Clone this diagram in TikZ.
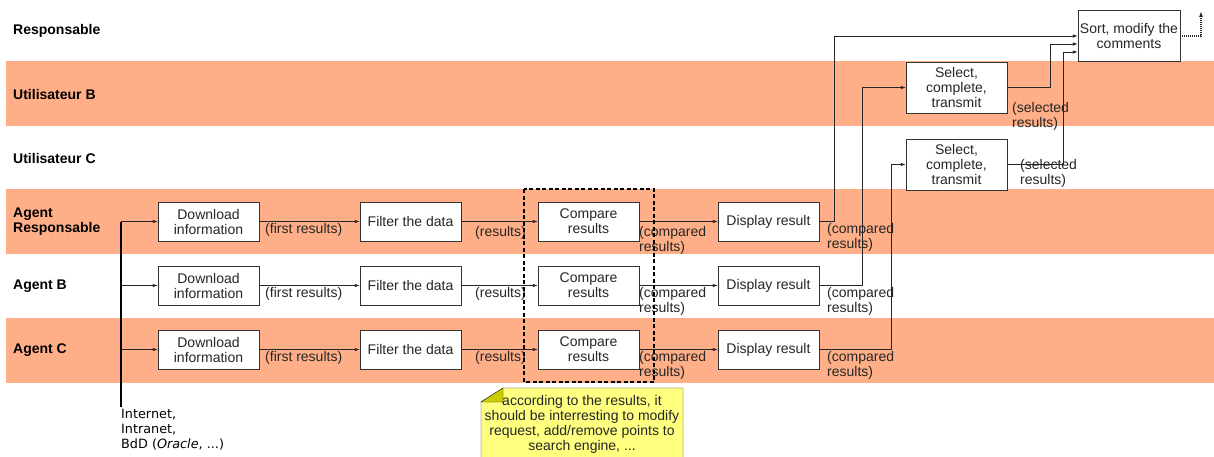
\documentclass[tikz,border=0pt]{standalone}
\usepackage{fontspec}
\setmainfont{Liberation Sans}
\newfontfamily\comicfont{DejaVu Sans}
\usetikzlibrary{arrows.meta}
\definecolor{laneorange}{HTML}{FFAF87}
\definecolor{noteyellow}{HTML}{FFFF80}
\definecolor{foldyellow}{HTML}{CCCC00}
\begin{document}
\begin{tikzpicture}[x=1pt,y=-1pt,font=\fontsize{14}{15}\selectfont]
                \tikzstyle{every node}+=[inner sep=0pt]
                \tikzstyle{task}=[draw=black!80,fill=white,minimum width=101pt,minimum height=39pt,align=center,text=black!85]
                \tikzstyle{tall task}=[task,minimum height=51pt]
                \tikzstyle{lane}=[font=\fontsize{14}{15}\selectfont\bfseries,anchor=west,align=left]
                \tikzstyle{flow}=[draw=black!85,line width=0.8pt,-{Latex[length=5pt,width=3.5pt]}]
                \tikzstyle{tag}=[anchor=west,align=left,text=black!85]
                \useasboundingbox (0,0) rectangle (1214,457);
                % swim lanes
                \fill [laneorange] (6,61) rectangle (1214,126);
                \fill [laneorange] (6,189) rectangle (1214,254);
                \fill [laneorange] (6,318) rectangle (1214,383);
                \node [lane] (lresp) at (13,30.5) {Responsable};
                \node [lane] (lub) at (13,94.5) {Utilisateur B};
                \node [lane] (luc) at (13,158.5) {Utilisateur C};
                \node [lane] (lar) at (13,222) {Agent\\Responsable};
                \node [lane] (lab) at (13,286.5) {Agent B};
                \node [lane] (lac) at (13,350.5) {Agent C};
                % agent tasks
                \node [task] (dla) at (208.5,221.5) {Download\\information};
                \node [task] (dlb) at (208.5,285.5) {Download\\information};
                \node [task] (dlc) at (208.5,349.5) {Download\\information};
                \node [task] (fla) at (410.5,221.5) {Filter the data};
                \node [task] (flb) at (410.5,285.5) {Filter the data};
                \node [task] (flc) at (410.5,349.5) {Filter the data};
                \node [task] (cpa) at (588.5,221.5) {Compare\\results};
                \node [task] (cpb) at (588.5,285.5) {Compare\\results};
                \node [task] (cpc) at (588.5,349.5) {Compare\\results};
                \node [task] (dpa) at (768.5,221.5) {Display result};
                \node [task] (dpb) at (768.5,285.5) {Display result};
                \node [task] (dpc) at (768.5,349.5) {Display result};
                % user tasks
                \node [tall task] (selb) at (956.5,87.5) {Select,\\complete,\\transmit};
                \node [tall task] (selc) at (956.5,164.5) {Select,\\complete,\\transmit};
                \node [tall task,minimum width=102pt] (sort) at (1129,35.5) {Sort, modify the\\comments};
                % sources
                \coordinate (src) at (121,407);
                \node [anchor=north west,align=left,font=\comicfont\fontsize{12.8}{15}\selectfont] (srctxt) at (121,409) {Internet,\\Intranet,\\BdD ({\itshape Oracle}, ...)};
                \draw [black,line width=1.4pt] (src) -- (121,221.5);
                \draw [flow] (121,221.5) -- (dla.west);
                \draw [flow] (121,285.5) -- (dlb.west);
                \draw [flow] (121,349.5) -- (dlc.west);
                % flows along each agent
                \draw [flow] (dla) -- (fla);
                \draw [flow] (dlb) -- (flb);
                \draw [flow] (dlc) -- (flc);
                \draw [flow] (fla) -- (cpa);
                \draw [flow] (flb) -- (cpb);
                \draw [flow] (flc) -- (cpc);
                \draw [flow] (cpa) -- (dpa);
                \draw [flow] (cpb) -- (dpb);
                \draw [flow] (cpc) -- (dpc);
                \node [tag] (ta1) at (265,230) {(first results)};
                \node [tag] (tb1) at (265,294) {(first results)};
                \node [tag] (tc1) at (265,358) {(first results)};
                \node [tag] (ta2) at (475,233) {(results)};
                \node [tag] (tb2) at (475,294) {(results)};
                \node [tag] (tc2) at (475,358) {(results)};
                \node [tag] (ta3) at (639,240) {(compared\\results)};
                \node [tag] (tb3) at (639,301) {(compared\\results)};
                \node [tag] (tc3) at (639,365) {(compared\\results)};
                \node [tag] (ta4) at (827,237) {(compared\\results)};
                \node [tag] (tb4) at (827,301) {(compared\\results)};
                \node [tag] (tc4) at (827,365) {(compared\\results)};
                % up to the users
                \draw [flow] (dpa.east) -| (834,36) -- (sort.west |- 0,36);
                \draw [flow] (dpb.east) -| (862,87.5) -- (selb.west);
                \draw [flow] (dpc.east) -| (891,164.5) -- (selc.west);
                \draw [flow] (selb.east) -| (1050,44) -- (sort.west |- 0,44);
                \draw [flow] (selc.east) -| (1063,52) -- (sort.west |- 0,52);
                \node [tag] (tsb) at (1012,116) {(selected\\results)};
                \node [tag] (tsc) at (1020,173) {(selected\\results)};
                \draw [black!85,line width=1.3pt,dash pattern=on 1.2pt off 0.8pt,-{Latex[length=6pt,width=4pt]}] (sort.east |- 0,36) -| (1201,11);
                % compare group and note
                \draw [black,line width=1.3pt,dash pattern=on 4pt off 2.5pt] (524,189) rectangle (654,382);
                \draw [black!85,fill=noteyellow] (503,388) -- (683,388) -- (683,460) -- (481,460) -- (481,402) -- cycle;
                \draw [black!85,fill=foldyellow] (481,402) -- (503,402) -- (503,388) -- cycle;
                \node [align=center,text=black!85] (note) at (582,424) {according to the results, it\\should be interresting to modify\\request, add/remove points to\\search engine, ...};
            \end{tikzpicture}
\end{document}
